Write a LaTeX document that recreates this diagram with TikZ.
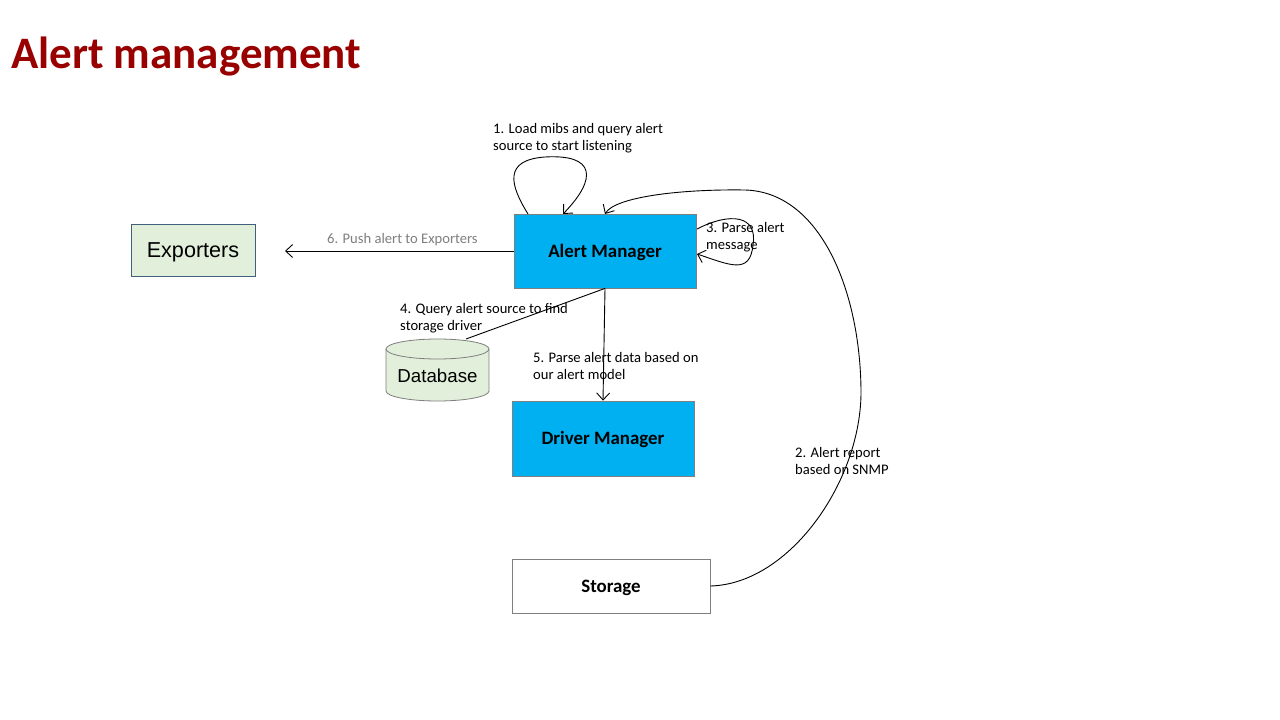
\documentclass[tikz,border=0pt]{standalone}
\usepackage{fontspec}
\setmainfont{Carlito}
\newfontfamily\arialf{Liberation Sans}
\usetikzlibrary{arrows.meta}
\definecolor{titlered}{HTML}{990000}
\definecolor{amblue}{HTML}{00B0F0}
\definecolor{lgreen}{HTML}{E2EFDA}
\definecolor{boxgray}{HTML}{7F7F7F}
\definecolor{expborder}{HTML}{41607E}
\definecolor{labgray}{HTML}{7F7F7F}
\tikzset{
  box/.style={draw=boxgray, line width=0.8pt, inner sep=0pt, text height=12.2pt, text depth=0pt, font=\fontsize{18.9}{22}\selectfont\bfseries},
  lab/.style={anchor=north west, inner sep=0pt, align=left, font=\fontsize{14.6}{17}\selectfont},
  conn/.style={line width=0.9pt, draw=black},
  arr/.style={conn, -{Straight Barb[length=7pt,width=13pt,line width=0.9pt]}},
}
\begin{document}
\begin{tikzpicture}[x=1pt,y=-1pt]
\useasboundingbox (0,0) rectangle (1280,720);
\fill[white] (0,0) rectangle (1280,720);
% title
\node[anchor=base west, inner sep=0pt, text=titlered, font=\fontsize{45}{50}\selectfont\bfseries] (title) at (11,68) {Alert management};
% boxes
\node[box, fill=amblue, minimum width=182pt, minimum height=74pt] (am) at (605,251) {Alert Manager};
\node[box, fill=amblue, minimum width=182pt, minimum height=75pt] (dm) at (603,438.5) {Driver Manager};
\node[box, fill=white, minimum width=198pt, minimum height=54pt] (st) at (611,586) {Storage};
\node[draw=expborder, line width=0.8pt, fill=lgreen, inner sep=0pt, minimum width=124pt, minimum height=52pt, text height=15.5pt, text depth=0pt, font=\arialf\fontsize{21.6}{24}\selectfont] (ex) at (193,250) {Exporters};
% database cylinder
\fill[lgreen] (386,349) rectangle (489,391);
\fill[lgreen] (437.5,391) ellipse (51.5 and 10);
\draw[boxgray, line width=0.8pt] (386,349) -- (386,391) arc (180:0:51.5 and 10) -- (489,349);
\draw[boxgray, fill=lgreen, line width=0.8pt] (437.5,349) ellipse (51.5 and 10);
\node[inner sep=0pt, minimum width=103pt, minimum height=62pt, font=\arialf\fontsize{18.7}{22}\selectfont] (db) at (437.5,376) {Database};
\coordinate (dbtop) at (466,339);
% connectors
\coordinate (am1s) at (528,214);
\coordinate (am1e) at (563,214);
\draw[arr] (am1s) .. controls (510,185) and (503,160) .. (545,157) .. controls (595,154) and (598,178) .. (am1e);
\coordinate (am3s) at (697,229);
\coordinate (am3e) at (697,254);
\draw[arr] (am3s) .. controls (730,212) and (758,215) .. (753,245) .. controls (750,275) and (730,265) .. (am3e);
\coordinate (ex6) at (285,251);
\draw[arr] (am.west) -- (ex6);
\draw[conn] (am.south) -- (dbtop);
\draw[arr] (am.south) -- (dm.north);
\coordinate (am2) at (605,214);
\draw[arr] (st.east) .. controls (790,584) and (862,480) .. (861,390) .. controls (860,290) and (820,192) .. (745,190) .. controls (680,189) and (615,197) .. (am2);
% labels
\node[lab] (l1) at (493,123) {1. Load mibs and query alert\\source to start listening};
\node[lab] (l3) at (706,222) {3. Parse alert\\message};
\node[lab, text=labgray] (l6) at (327,233) {6. Push alert to Exporters};
\node[lab] (l4) at (400,303) {4. Query alert source to find\\storage driver};
\node[lab] (l5) at (533,352) {5. Parse alert data based on\\our alert model};
\node[lab] (l2) at (795,447) {2. Alert report\\based on SNMP};
\end{tikzpicture}
\end{document}
